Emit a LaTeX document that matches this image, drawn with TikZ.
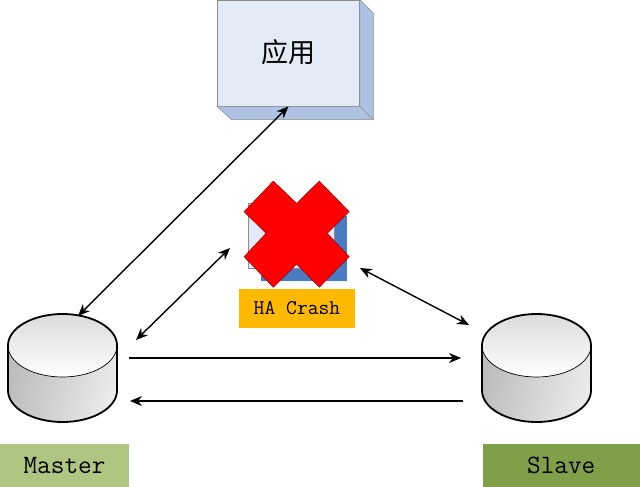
\documentclass[tikz,border=0pt]{standalone}
\usepackage{fontspec}
\newfontfamily\cjk{Noto Sans CJK SC}
\usetikzlibrary{arrows.meta}
\definecolor{facelight}{HTML}{E3EAF5}
\definecolor{facedepth}{HTML}{AEC3E4}
\definecolor{haback}{HTML}{4A7CC4}
\definecolor{crashbox}{HTML}{FFB900}
\definecolor{masterbox}{HTML}{AEC681}
\definecolor{slavebox}{HTML}{7F9F48}
\tikzset{
    tag/.style={inner sep=0pt, font=\ttfamily\fontsize{21}{24}\selectfont, text=black},
    bigtag/.style={tag, font=\ttfamily\fontsize{26.5}{30}\selectfont},
    link/.style={black, line width=1.4pt},
}
\begin{document}
\begin{tikzpicture}[x=1pt, y=-1pt, >={Stealth[length=12pt,width=10pt]}]
    \useasboundingbox (0,0) rectangle (640,487);

    % 1. APPLICATION BOX
    \node[draw=black!45, fill=facelight, line width=0.8pt, minimum width=142pt, minimum height=106pt, inner sep=0pt] (app) at (288.5,53) {};
    \draw[draw=black!45, fill=facedepth, line width=0.6pt] (app.north east) -- ++(13.5,13.5) -- ++(0,106.5) -- ++(-142,0) -- (app.south west) -- (app.south east) -- cycle;
    \draw[draw=black!45, line width=0.6pt] (app.south east) -- ++(13.5,13.5);
    \node[inner sep=0pt, font=\cjk\fontsize{27}{30}\selectfont] (app_text) at (288,52) {应用};

    % 2. DISKS
    \foreach \name/\cx in {master/62.5, slave/536.5}{
        \coordinate (\name) at (\cx,368);
        \begin{scope}[shift={(\name)}]
            \path[left color=black!26, right color=black!8, shading angle=75]
                (-54.5,-22.5) -- (-54.5,22.5) arc[start angle=180, end angle=360, x radius=54.5pt, y radius=31.5pt] -- (54.5,-22.5) -- cycle;
            \path[top color=black!14, bottom color=white]
                (0,-22.5) ellipse[x radius=54.5pt, y radius=31.5pt];
            \draw[line width=0.7pt] (-54.5,-22.5) arc[start angle=180, end angle=360, x radius=54.5pt, y radius=31.5pt];
            \draw[line width=1.8pt] (54.5,-22.5) arc[start angle=0, end angle=180, x radius=54.5pt, y radius=31.5pt]
                -- (-54.5,22.5) arc[start angle=180, end angle=360, x radius=54.5pt, y radius=31.5pt] -- cycle;
        \end{scope}
    }
    \node[bigtag, fill=masterbox, minimum width=129pt, minimum height=43pt] (master_tag) at (64.5,465.5) {Master};
    \node[bigtag, fill=slavebox, minimum width=157.5pt, minimum height=43pt] (slave_tag) at (561.25,465.5) {Slave};

    % 3. HA
    \fill[haback] (261,216) rectangle (347,281);
    \node[draw=black!45, fill=facelight, line width=0.7pt, minimum width=86pt, minimum height=65pt, inner sep=0pt] (ha) at (291,235.5) {};
    \draw[draw=black!60!red, fill=red, line width=0.3pt] (273.3,181) -- (296.7,203.3) -- (319.3,181) -- (349.3,211.7) -- (327.3,233.3) -- (349.3,256.7)
        -- (319.3,287.3) -- (296.7,264.3) -- (273.3,287.3) -- (244,256.7) -- (266,233.3) -- (244,211.7) -- cycle;
    \node[tag, fill=crashbox, minimum width=116pt, minimum height=38.5pt] (ha_tag) at (297,308.5) {HA Crash};

    % 4. LINKS
    \coordinate (master_top) at (78,316);
    \coordinate (master_right) at (136,340);
    \coordinate (ha_left) at (230,248);
    \coordinate (ha_right) at (360,268);
    \coordinate (slave_top) at (469,325);
    \coordinate (sync_a) at (129,358);
    \coordinate (sync_b) at (461,358);
    \coordinate (sync_c) at (463,401);
    \coordinate (sync_d) at (130,401);
    \draw[<->, link] (app.south) -- (master_top);
    \draw[<->, link] (ha_left) -- (master_right);
    \draw[<->, link] (ha_right) -- (slave_top);
    \draw[->, link] (sync_a) -- (sync_b);
    \draw[->, link] (sync_c) -- (sync_d);
\end{tikzpicture}
\end{document}
